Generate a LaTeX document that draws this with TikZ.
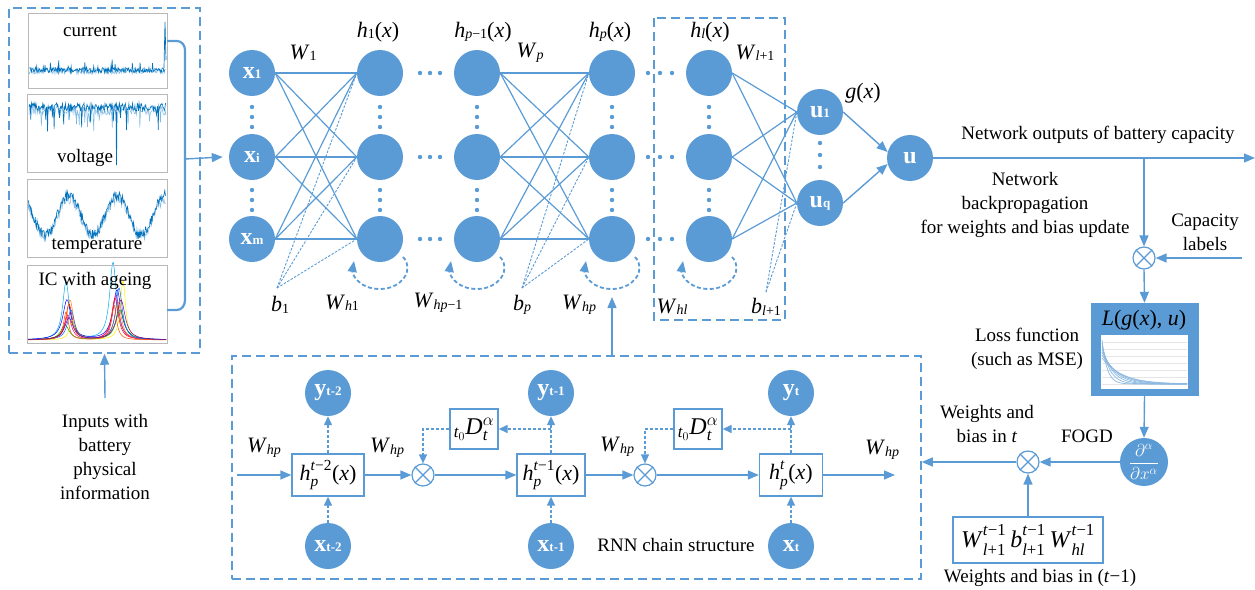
\documentclass[tikz,border=0pt]{standalone}
\usepackage{fontspec}
\usepackage{amsmath}
\setmainfont{Liberation Serif}
\usetikzlibrary{arrows.meta,calc}
\definecolor{nb}{RGB}{91,155,213}
\definecolor{sig}{RGB}{0,114,189}
\definecolor{sigl}{RGB}{130,185,225}
\newcommand{\sbs}[1]{\raisebox{-1.5pt}{\fontsize{14}{14}\selectfont #1}}
\newcommand{\nsub}[1]{{\fontsize{13}{13}\selectfont #1}}
\newcommand{\supsub}[3]{#1$^{\text{\raisebox{2.5pt}{#2}}}_{\text{\raisebox{-1.5pt}{#3}}}$}
\newcommand{\otimnode}[2]{\node[otimes] (#1) at #2 {}; \draw[nb,line width=1.2pt] (#1.45)--(#1.225) (#1.135)--(#1.315);}
\tikzset{
 neuron/.style={circle, fill=nb, minimum size=46pt, inner sep=0pt, text=white, font=\fontsize{24}{24}\selectfont\bfseries},
 conn/.style={draw=nb, line width=1.2pt},
 arr/.style={draw=nb, line width=1.4pt, -{Triangle[length=11pt,width=9pt]}},
 darr/.style={draw=nb, line width=1.3pt, dash pattern=on 3pt off 2pt, -{Triangle[length=9pt,width=8pt]}},
 bias/.style={draw=nb, line width=0.9pt, dash pattern=on 2.5pt off 1.5pt},
 dbox/.style={draw=nb, line width=1.5pt, dash pattern=on 9pt off 5pt},
 otimes/.style={circle, draw=nb, line width=1.2pt, minimum size=22pt, inner sep=0pt, fill=white},
 hbox/.style={draw=nb, line width=1.3pt, fill=white, minimum height=42pt, inner sep=1pt, font=\fontsize{22}{24}\selectfont},
 lbl/.style={font=\fontsize{22}{24}\selectfont, inner sep=0pt},
 txt/.style={font=\fontsize{19}{24}\selectfont, align=center, inner sep=0pt},
 loopd/.style={draw=nb, line width=1.8pt, dash pattern=on 4pt off 2.5pt, -{Triangle[length=11pt,width=9pt]}},
 frame/.style={draw=gray!55, line width=0.7pt},
}
\begin{document}
\begin{tikzpicture}[x=1pt,y=-1pt]
\useasboundingbox (0,0) rectangle (1255,589);
\pgfmathsetseed{12}
% ---------------- input panel ----------------
\node[dbox, minimum width=191, minimum height=345, inner sep=0pt] (inbox) at (104.5,180.5) {};
% current
\draw[sigl, line width=0.5pt] plot[domain=29:165, samples=200] (\x,{71+3*rand});
\draw[sig, line width=0.6pt] plot[domain=29:165, samples=230] (\x,{70+2.5*rand-10*(rnd>0.93)*rnd});
\draw[sig, line width=0.7pt] (164,68) -- (165,22) -- (166,60);
\draw[frame] (28,13) rectangle (167,88);
% voltage
\draw[sigl, line width=0.5pt] plot[domain=29:166, samples=200] (\x,{110+5*rand+18*(rnd>0.88)*rnd});
\draw[sig, line width=0.6pt] plot[domain=29:166, samples=230] (\x,{107+4*rand+30*(rnd>0.9)*rnd});
\draw[sig, line width=0.7pt] (116,110) -- (116.5,165) -- (117,112);
\draw[frame] (27,94) rectangle (167,172);
% temperature
\draw[sigl, line width=0.5pt] plot[domain=28:166, samples=200] (\x,{217-19*sin(7.5*(\x-28)+142.5)+6*rand});
\draw[sig, line width=0.6pt] plot[domain=28:166, samples=230] (\x,{215-20*sin(7.5*(\x-28)+142.5)+5*rand});
\draw[frame] (27,179) rectangle (167,257);
% IC
\foreach \c/\a/\m/\b/\n/\w in {cyan/58/66/78/113/4, blue/40/67/50/117/5, red/36/69/42/115/4, orange/40/70/38/118/4, yellow/20/72/60/123/3, green!70!black/15/65/30/120/5, magenta/25/68/45/116/4, blue!60!cyan/30/71/52/119/4, red!70!yellow/28/66/35/114/3, violet/22/69/40/121/5}
  \draw[\c, line width=0.5pt] plot[domain=28:166, samples=140] (\x,{340-\a/(1+((\x-\m)/\w)^2)-\b/(1+((\x-\n)/\w)^2)});
\draw[frame] (27,265) rectangle (167,343);
\node[txt] at (90,31) {current};
\node[txt] at (85,158) {voltage};
\node[txt] at (97,246) {temperature};
\node[txt] at (95,281) {IC with ageing};
% bracket
\draw[nb, line width=2.2pt] (167,41) -- (177,41) to[out=0,in=90] (185,50) -- (185,300) to[out=-90,in=0] (177,310) -- (167,310);
\coordinate (brk) at (185,159);
\coordinate (inarr) at (105,398);
\draw[arr] (inarr) -- (inbox.south);
\node[txt] at (105,457) {Inputs with\\battery\\physical\\information};
% ---------------- feed-forward network ----------------
\node[neuron] (x1) at (252,73) {x\nsub{1}};
\node[neuron] (xi) at (252,157) {x\nsub{i}};
\node[neuron] (xm) at (252,239) {x\nsub{m}};
\draw[arr] (brk) -- ([xshift=-6pt]xi.west);
\foreach \n/\xx in {h1/380, pp/477, qq/612, ll/709}{
  \node[neuron] (\n a) at (\xx,73) {};
  \node[neuron] (\n b) at (\xx,157) {};
  \node[neuron] (\n c) at (\xx,239) {};
}
\node[neuron] (u1) at (820,112) {u\nsub{1}};
\node[neuron] (uq) at (820,203) {u\nsub{q}};
\node[neuron] (u) at (910,158) {u};
\foreach \a in {x1,xi,xm} \foreach \b in {h1a,h1b,h1c} \draw[conn] (\a.east) -- (\b.west);
\foreach \a in {ppa,ppb,ppc} \foreach \b in {qqa,qqb,qqc} \draw[conn] (\a.east) -- (\b.west);
\foreach \a in {lla,llb,llc} \foreach \b in {u1,uq} \draw[conn] (\a.east) -- (\b.west);
\draw[arr] (u1.east) -- (u.165);
\draw[arr] (uq.east) -- (u.195);
% bias lines
\coordinate (b1p) at (277,288);
\coordinate (bpp) at (522,288);
\coordinate (blp) at (766,292);
\foreach \b in {h1a,h1b,h1c} \draw[bias] (b1p) -- (\b.west);
\foreach \b in {qqa,qqb,qqc} \draw[bias] (bpp) -- (\b.west);
\foreach \b in {u1,uq} \draw[bias] (blp) -- (\b.west);
% self loops
\foreach \n in {h1c,ppc,qqc,llc}
  \draw[loopd] ($(\n)+(23,18)$) .. controls +(12,12) and +(22,0) .. ($(\n)+(0,50)$) .. controls +(-22,0) and +(-2,12) .. ($(\n)+(-26,22)$);
% dots
\foreach \xx in {252,380,477,612,709} \foreach \yy in {107,117,127,190,200,210} \fill[nb] (\xx,\yy) circle (2.2pt);
\foreach \yy in {143,155,167} \fill[nb] (820,\yy) circle (2.2pt);
\foreach \xx in {420,430,440,648,660,672} \foreach \yy in {73,157,239} \fill[nb] (\xx,\yy) circle (2.2pt);
% layer l box
\draw[dbox] (654,18) rectangle (785,320);
% labels
\node[lbl] at (378,32) {\textit{h}\sbs{1}(\textit{x})};
\node[lbl] at (483,32) {\textit{h}\sbs{\textit{p}−1}(\textit{x})};
\node[lbl] at (610,32) {\textit{h}\sbs{\textit{p}}(\textit{x})};
\node[lbl] at (710,32) {\textit{h}\sbs{\textit{l}}(\textit{x})};
\node[lbl] at (303,53) {\textit{W}\sbs{1}};
\node[lbl] at (530,53) {\textit{W}\sbs{\textit{p}}};
\node[lbl] at (755,53) {\textit{W}\sbs{\textit{l}+1}};
\node[lbl] at (863,93) {\textit{g}(\textit{x})};
\node[lbl] at (280,305) {\textit{b}\sbs{1}};
\node[lbl] at (342,303) {\textit{W}\sbs{\textit{h}1}};
\node[lbl] at (438,303) {\textit{W}\sbs{\textit{hp}−1}};
\node[lbl] at (522,305) {\textit{b}\sbs{\textit{p}}};
\node[lbl] at (579,305) {\textit{W}\sbs{\textit{hp}}};
\node[lbl] at (672,307) {\textit{W}\sbs{\textit{hl}}};
\node[lbl] at (766,307) {\textit{b}\sbs{\textit{l}+1}};
% ---------------- RNN chain ----------------
\node[dbox, minimum width=689, minimum height=223, inner sep=0pt] (rnnbox) at (576.5,467.5) {};
\coordinate (qloop) at ($(qqc)+(0,58)$);
\draw[arr] (rnnbox.north -| qqc) -- (qloop);
\node[hbox, minimum width=72] (hb1) at (328,475) {\supsub{\textit{h}}{\textit{t}−2}{\textit{p}}(\textit{x})};
\node[hbox, minimum width=68] (hb2) at (551,475) {\supsub{\textit{h}}{\textit{t}−1}{\textit{p}}(\textit{x})};
\node[hbox, minimum width=63] (hb3) at (791,475) {\supsub{\textit{h}}{\textit{t}}{\textit{p}}(\textit{x})};
\node[neuron] (yb1) at (328,393) {y\nsub{t-2}};
\node[neuron] (yb2) at (551,393) {y\nsub{t-1}};
\node[neuron] (yb3) at (791,393) {y\nsub{t}};
\node[neuron] (xb1) at (328,546) {x\nsub{t-2}};
\node[neuron] (xb2) at (551,546) {x\nsub{t-1}};
\node[neuron] (xb3) at (791,546) {x\nsub{t}};
\otimnode{ot1}{(423,475)}
\otimnode{ot2}{(645,475)}
\node[hbox, minimum width=48, minimum height=40, font=\fontsize{24}{24}\selectfont] (d1) at (474,429) {${}_{\textit{t}_0}\textit{D}^{\alpha}_{\textit{t}}$};
\node[hbox, minimum width=48, minimum height=40, font=\fontsize{24}{24}\selectfont] (d2) at (698,429) {${}_{\textit{t}_0}\textit{D}^{\alpha}_{\textit{t}}$};
\coordinate (rin) at (237,475);
\coordinate (rout) at (895,475);
\draw[arr] (rin) -- (hb1.west);
\draw[arr] (hb1.east) -- (ot1.west);
\draw[arr] (ot1.east) -- (hb2.west);
\draw[arr] (hb2.east) -- (ot2.west);
\draw[arr] (ot2.east) -- (hb3.west);
\draw[arr] (hb3.east) -- (rout);
\foreach \i in {1,2,3}{
  \draw[darr] (hb\i.north) -- (yb\i.south);
  \draw[darr] (xb\i.north) -- (hb\i.south);
}
\draw[darr] (hb2.north |- d1.east) -- (d1.east);
\draw[darr] (d1.west) -| (ot1.north);
\draw[darr] (hb3.north |- d2.east) -- (d2.east);
\draw[darr] (d2.west) -| (ot2.north);
\node[lbl] at (264,448) {\textit{W}\sbs{\textit{hp}}};
\node[lbl] at (387,448) {\textit{W}\sbs{\textit{hp}}};
\node[lbl] at (617,447) {\textit{W}\sbs{\textit{hp}}};
\node[lbl] at (882,450) {\textit{W}\sbs{\textit{hp}}};
\node[txt] at (676,545) {RNN chain structure};
% ---------------- right side ----------------
\coordinate (outend) at (1255,158);
\draw[arr] (u.east) -- (outend);
\node[txt] at (1098,135) {Network outputs of battery capacity};
\node[txt] at (1025,205) {Network\\backpropagation\\for weights and bias update};
\coordinate (br) at (1144,158);
\otimnode{ot3}{(1144,258)}
\draw[arr] (br) -- (ot3.north);
\coordinate (caplab) at (1242,258);
\draw[arr] (caplab) -- (ot3.east);
\node[txt] at (1205,232) {Capacity\\labels};
\node[fill=nb, minimum width=108, minimum height=93, inner sep=0pt] (loss) at (1144.5,349.5) {};
\fill[white] (1101,335) rectangle (1188,389);
\foreach \yy in {342,349,356,363,370,377,384} \draw[gray!20, line width=0.5pt] (1102,\yy) -- (1187,\yy);
\foreach \k in {0,...,6}
  \draw[nb!70, line width=0.7pt] plot[domain=1102:1187, samples=60] (\x,{384-(44-3*\k)*exp(-(\x-1102)/(5+2.5*\k))});
\node[lbl] at (1144,320) {\textit{L}(\textit{g}(\textit{x}), \textit{u})};
\draw[arr] (ot3.south) -- (loss.north);
\node[txt] at (1027,349) {Loss function\\(such as MSE)};
\node[neuron, minimum size=48pt, font=\fontsize{17}{17}\selectfont] (fogd) at (1144,462) {$\dfrac{\partial^\alpha}{\partial x^\alpha}$};
\draw[arr] (loss.south) -- (fogd.north);
\node[txt] at (1087,436) {FOGD};
\otimnode{ot4}{(1028,462)}
\draw[arr] (fogd.west) -- (ot4.east);
\draw[arr] (ot4.west) -- (rnnbox.east |- ot4.west);
\node[txt] at (987,424) {Weights and\\bias in \textit{t}};
\node[draw=nb, line width=1.3pt, minimum width=150, minimum height=46, inner sep=1pt, font=\fontsize{24}{26}\selectfont] (wbox) at (1028,540)
 {\supsub{\textit{W}}{\textit{t}−1}{\textit{l}+1}\,\supsub{\textit{b}}{\textit{t}−1}{\textit{l}+1}\,\supsub{\textit{W}}{\textit{t}−1}{\textit{hl}}};
\draw[arr] (wbox.north) -- (ot4.south);
\node[txt] at (1040,578) {Weights and bias in (\textit{t}−1)};
\end{tikzpicture}
\end{document}
